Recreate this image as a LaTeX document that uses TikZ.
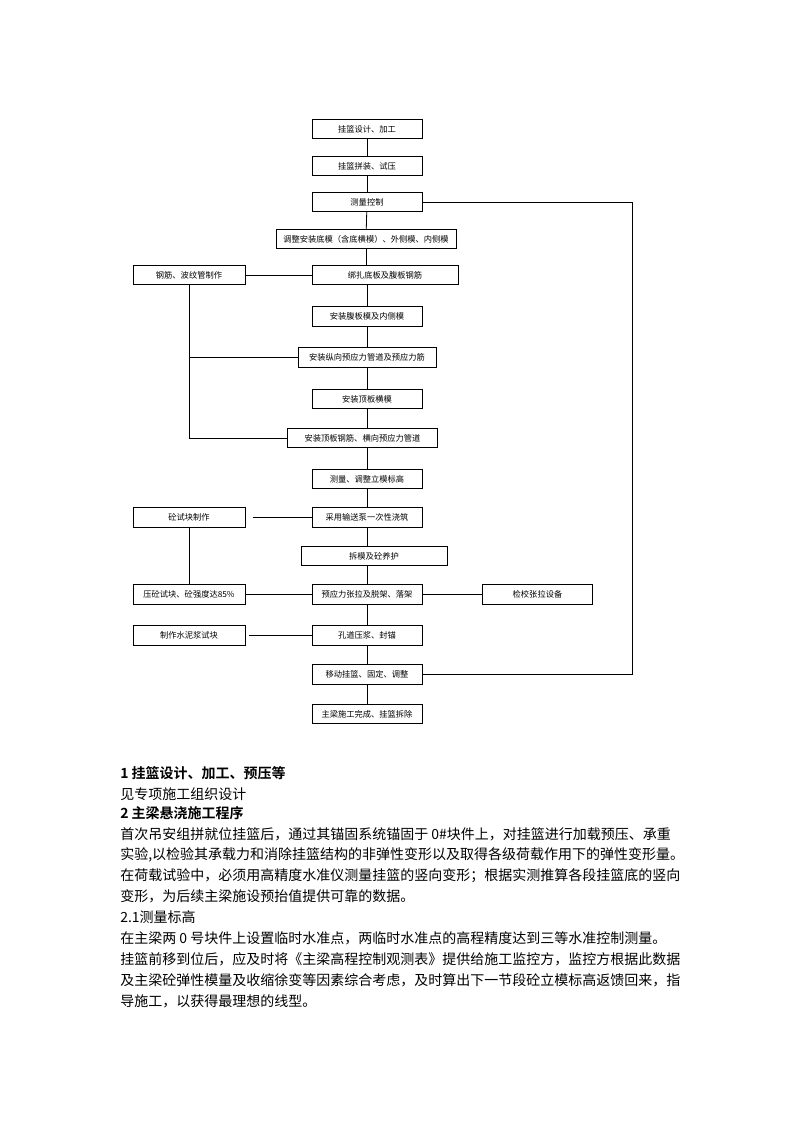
\documentclass[tikz,border=0pt]{standalone}
\usepackage{fontspec}
\newfontfamily\cjk{Noto Sans CJK SC}
\newfontfamily\cjkb{Noto Sans CJK SC Bold}
\begin{document}
\begin{tikzpicture}[x=0.75pt,y=-0.75pt,
  bx/.style={draw, line width=0.6pt, minimum width=#1, minimum height=14.5pt,
    inner sep=1pt, font=\cjk\fontsize{6.2}{7}\selectfont},
  bx/.default=82.5pt,
  ln/.style={line width=0.6pt},
  body/.style={anchor=west, inner sep=0pt, font=\cjk\fontsize{10.5}{12}\selectfont},
  head/.style={anchor=west, inner sep=0pt, font=\cjkb\fontsize{10.5}{12}\selectfont}]
\useasboundingbox (0,0) rectangle (794,1123);
\fill[white] (0,0) rectangle (794,1123);
% boxes
\node[bx] (b1) at (367,129) {挂篮设计、加工};
\node[bx] (b2) at (367,166) {挂篮拼装、试压};
\node[bx] (b3) at (367,202) {测量控制};
\node[bx=135pt] (b4) at (366,239) {调整安装底模（含底横模）、外侧模、内侧模};
\node[bx=84pt] (b5) at (189,275) {钢筋、波纹管制作};
\node[bx=109.5pt] (b6) at (385,275) {绑扎底板及腹板钢筋};
\node[bx] (b7) at (367,316.5) {安装腹板模及内侧模};
\node[bx=103.5pt] (b8) at (367,357.5) {安装纵向预应力管道及预应力筋};
\node[bx] (b9) at (367,399) {安装顶板横模};
\node[bx=112pt] (b10) at (362.5,438) {安装顶板钢筋、横向预应力管道};
\node[bx] (b11) at (367,479) {测量、调整立模标高};
\node[bx=84pt] (b12) at (189,517.5) {砼试块制作};
\node[bx] (b13) at (367,517.5) {采用输送泵一次性浇筑};
\node[bx=109.5pt] (b14) at (374,556) {拆模及砼养护};
\node[bx=84pt] (b15) at (189,594.5) {压砼试块、砼强度达85\%};
\node[bx] (b16) at (367,594.5) {预应力张拉及脱架、落架};
\node[bx=83pt] (b17) at (537.5,594.5) {检校张拉设备};
\node[bx=84pt] (b18) at (189,635.5) {制作水泥浆试块};
\node[bx] (b19) at (367,635.5) {孔道压浆、封锚};
\node[bx] (b20) at (367,674.5) {移动挂篮、固定、调整};
\node[bx] (b21) at (367,714) {主梁施工完成、挂篮拆除};
\coordinate (rr) at (632,202);
% main vertical connectors
\draw[ln] (b1) -- (b2);
\draw[ln] (b2) -- (b3);
\draw[ln] (b3) -- (b4);
\draw[ln] (b4.south) -- (b6.north -| b4.south);
\draw[ln] (b6.south -| b7.north) -- (b7.north);
\draw[ln] (b7) -- (b8);
\draw[ln] (b8) -- (b9);
\draw[ln] (b9.south) -- (b10.north -| b9.south);
\draw[ln] (b10.south -| b11.north) -- (b11.north);
\draw[ln] (b11) -- (b13);
\draw[ln] (b13.south) -- (b14.north -| b13.south);
\draw[ln] (b14.south -| b16.north) -- (b16.north);
\draw[ln] (b16) -- (b19);
\draw[ln] (b19) -- (b20);
\draw[ln] (b20) -- (b21);
% loop on the right
\draw[ln] (b3.east) -- (b3.east -| rr) -- (b20.east -| rr) -- (b20.east);
% left branches
\draw[ln] (b5) -- (b6);
\draw[ln] (b5.south) -- (b10.west -| b5.south) -- (b10.west);
\draw[ln] (b8.west -| b5.south) -- (b8.west);
\draw[ln, shorten <=5.5pt] (b12.east) -- (b13.west);
\draw[ln] (b12) -- (b15);
\draw[ln] (b15) -- (b16);
\draw[ln] (b16) -- (b17);
\draw[ln, shorten <=2.5pt] (b18.east) -- (b19.west);
% text below
\node[head] (t1) at (120,773) {1 挂篮设计、加工、预压等};
\node[body] (t2) at (120,794) {见专项施工组织设计};
\node[head] (t3) at (120,813) {2 主梁悬浇施工程序};
\node[body] (t4) at (120,834) {首次吊安组拼就位挂篮后，通过其锚固系统锚固于 0\#块件上，对挂篮进行加载预压、承重};
\node[body] (t5) at (120,855) {实验,以检验其承载力和消除挂篮结构的非弹性变形以及取得各级荷载作用下的弹性变形量。};
\node[body] (t6) at (120,876) {在荷载试验中，必须用高精度水准仪测量挂篮的竖向变形；根据实测推算各段挂篮底的竖向};
\node[body] (t7) at (120,896) {变形，为后续主梁施设预抬值提供可靠的数据。};
\node[body] (t8) at (120,917) {2.1测量标高};
\node[body] (t9) at (120,938) {在主梁两 0 号块件上设置临时水准点，两临时水准点的高程精度达到三等水准控制测量。};
\node[body] (t10) at (120,959) {挂篮前移到位后，应及时将《主梁高程控制观测表》提供给施工监控方，监控方根据此数据};
\node[body] (t11) at (120,980) {及主梁砼弹性模量及收缩徐变等因素综合考虑，及时算出下一节段砼立模标高返馈回来，指};
\node[body] (t12) at (120,1001) {导施工，以获得最理想的线型。};
\end{tikzpicture}
\end{document}
